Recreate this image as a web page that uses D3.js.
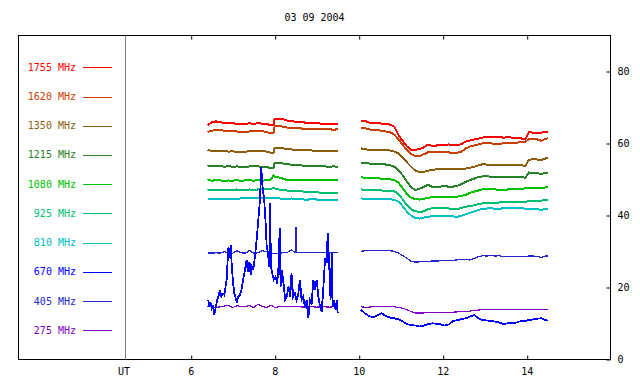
<!DOCTYPE html>
<html>
<head>
<meta charset="utf-8">
<script src="https://cdn.jsdelivr.net/npm/d3@7"></script>
<style>
  html, body { margin: 0; padding: 0; background: #fff; }
  svg { display: block; }
  text { font-family: "DejaVu Sans Mono", monospace; font-size: 10px; }
</style>
</head>
<body>
<svg id="chart" width="640" height="384"></svg>
<script>
// ---------------- DATA ----------------
const title = "03 09 2004";
const xTicks = [6, 8, 10, 12, 14];
const yTicks = [0, 20, 40, 60, 80];

const freqs  = ["1755 MHz","1620 MHz","1350 MHz","1215 MHz","1080 MHz","925 MHz","810 MHz","670 MHz","405 MHz","275 MHz"];
const colors = ["#ff0000","#c84000","#8b5e0f","#288028","#00c000","#00c070","#00c0c0","#0000ff","#2424c8","#8000c8"];

// time grids (UT hours)
const t1 = [6.4,6.5,6.6,6.7,6.8,6.9,7.0,7.1,7.2,7.3,7.4,7.5,7.6,7.7,7.8,7.9,7.97,8.0,8.1,8.2,8.3,8.4,8.5,8.6,8.7,8.8,8.9,9.0,9.1,9.2,9.3,9.4,9.5];
const t2 = [10.05,10.15,10.25,10.35,10.45,10.55,10.65,10.75,10.85,10.95,11.05,11.15,11.25,11.35,11.45,11.55,11.65,11.75,11.85,11.95,
            12.05,12.15,12.25,12.35,12.45,12.55,12.65,12.75,12.85,12.95,13.05,13.15,13.25,13.35,13.45,13.55,13.65,13.75,13.85,13.95,
            13.97,14.05,14.15,14.25,14.35,14.45,14.5];
const t405a = [6.4,6.5,6.6,6.7,6.8,6.9,7.0,7.1,7.2,7.3,7.4,7.5,7.6,7.7,7.8,7.9,8.0,8.1,8.2,8.3,8.4,8.5,8.51,8.52,8.6,8.7,8.8,8.9,9.0,9.1,9.2,9.3,9.4,9.5];
const t670a = [6.42,6.44,6.47,6.50,6.53,6.56,6.60,6.63,6.67,6.70,6.73,6.77,6.80,6.83,6.86,6.88,6.90,6.93,6.95,6.98,
               7.01,7.04,7.07,7.10,7.13,7.17,7.21,7.25,7.29,7.33,7.36,7.40,7.43,7.46,7.49,7.53,7.57,7.61,7.65,7.68,
               7.71,7.75,7.78,7.81,7.84,7.87,7.89,7.91,7.94,7.98,8.02,8.06,8.09,8.12,8.14,8.17,8.21,8.25,8.29,8.33,
               8.37,8.40,8.44,8.48,8.52,8.56,8.60,8.64,8.68,8.72,8.76,8.80,8.84,8.88,8.92,8.96,9.00,9.04,9.08,9.12,
               9.16,9.20,9.24,9.26,9.30,9.33,9.36,9.38,9.41,9.45,9.48,9.50];

// flux values (arbitrary units)
const f1755a = [65.0,65.7,66.0,65.8,65.6,65.5,65.5,65.3,65.4,65.3,65.5,65.3,65.5,65.4,65.3,65.0,64.9,66.8,66.8,66.6,66.2,66.1,65.9,65.8,65.7,65.6,65.5,65.5,65.4,65.3,65.3,65.4,65.3];
const f1755b = [66.2,66.1,65.7,65.5,65.5,65.4,65.3,65.1,64.5,62.2,60.5,59.0,58.1,58.1,58.3,58.8,59.6,59.2,59.3,59.4,59.5,59.6,59.4,59.4,59.7,60.4,60.7,61.0,61.2,61.5,61.8,61.7,61.6,61.6,61.5,61.6,61.5,61.4,61.3,61.1,61.1,63.0,62.9,62.7,62.9,63.1,63.1];
const f1620a = [63.1,63.4,63.6,63.6,63.4,63.3,63.2,63.2,63.1,63.0,63.2,63.2,63.3,63.3,63.1,62.7,62.7,64.7,64.8,64.5,64.3,64.3,64.1,64.1,63.9,63.9,63.9,63.8,63.8,63.8,63.8,63.7,63.8];
const f1620b = [64.3,64.1,63.8,63.6,63.6,63.4,63.2,63.0,62.3,61.0,59.4,58.1,56.9,56.3,56.3,56.9,57.4,57.6,57.4,57.6,57.6,57.4,57.1,57.3,57.6,58.5,59.0,59.3,59.6,59.9,59.9,59.9,59.7,59.8,59.9,59.9,59.9,60.1,60.2,60.4,60.4,61.0,61.0,61.0,60.6,61.2,61.3];
const f1350a = [58.1,57.8,57.9,57.7,57.8,57.6,57.7,57.5,57.6,57.6,57.7,57.7,57.8,57.9,57.6,57.3,57.3,58.7,58.7,58.5,58.4,58.2,58.1,58.1,58.1,58.0,57.9,57.9,57.8,57.9,57.8,57.9,57.8];
const f1350b = [58.5,58.3,58.1,58.1,58.1,58.1,58.0,57.9,57.6,57.1,56.0,54.6,53.4,52.3,51.9,52.0,52.3,52.5,52.7,52.8,52.8,52.8,52.8,52.8,52.8,52.9,53.1,53.4,53.8,54.1,54.0,53.9,53.9,53.9,53.9,53.9,53.9,53.9,53.8,53.7,53.7,55.3,55.5,55.4,55.3,55.7,55.8];
const f1215a = [53.8,53.5,53.7,53.6,53.4,53.6,53.4,53.5,53.4,53.3,53.5,53.6,53.5,53.4,53.4,53.0,53.0,54.5,54.4,54.3,54.1,54.0,53.9,53.8,53.7,53.6,53.6,53.5,53.5,53.5,53.4,53.5,53.4];
const f1215b = [54.5,54.4,54.3,54.3,54.3,54.2,54.0,53.8,53.4,52.3,51.0,49.3,47.7,46.9,47.3,47.8,48.4,47.8,47.7,47.9,48.1,47.8,47.9,48.1,48.6,49.2,49.7,50.1,50.6,50.7,50.8,50.6,50.6,50.5,50.6,50.6,50.5,50.5,50.5,50.4,50.4,51.8,51.6,51.6,51.4,51.8,51.8];
const f1080a = [49.9,49.5,49.7,49.6,49.5,49.6,49.5,49.7,49.5,49.6,49.7,49.5,49.7,49.5,49.7,49.7,50.9,50.6,50.4,50.1,49.7,49.6,49.7,49.6,49.7,49.7,49.6,49.7,49.7,49.6,49.7,49.7,49.6];
const f1080b = [50.5,50.3,50.2,50.2,50.2,50.1,50.0,49.9,49.7,49.0,47.4,45.8,44.8,44.4,44.3,44.5,44.8,44.9,45.0,45.1,45.1,45.1,45.1,45.1,45.3,45.6,46.2,46.5,46.8,47.1,47.1,47.1,47.1,47.0,46.9,47.1,47.1,47.1,47.2,47.4,47.4,47.6,47.5,47.4,47.4,47.7,47.7];
const f925a  = [47.1,46.9,46.9,46.9,46.9,47.0,46.9,47.1,46.9,47.0,47.1,46.9,47.1,47.2,47.1,47.3,47.4,47.4,47.1,46.9,46.8,46.8,46.8,46.6,46.5,46.4,46.3,46.3,46.2,46.1,46.1,46.0,46.0];
const f925b  = [47.1,47.0,46.9,46.9,46.9,46.8,46.8,46.8,46.6,45.8,44.3,42.7,41.6,41.0,40.9,41.0,41.6,41.9,41.9,41.9,41.9,41.8,41.7,41.6,42.0,42.3,42.5,42.7,43.0,43.2,43.2,43.2,43.3,43.5,43.7,43.7,43.7,43.7,43.7,43.7,43.7,43.8,43.9,43.9,44.0,44.2,44.2];
const f810a  = [44.4,44.4,44.4,44.4,44.5,44.5,44.4,44.5,44.6,44.7,44.8,44.7,44.8,44.8,44.7,44.6,44.6,44.7,44.6,44.5,44.5,44.6,44.4,44.4,44.3,44.3,44.4,44.3,44.2,44.2,44.2,44.3,44.2];
const f810b  = [44.6,44.5,44.4,44.4,44.4,44.4,44.4,44.4,44.2,43.7,42.4,40.9,39.8,39.2,39.0,39.3,39.5,39.7,39.7,39.7,39.7,39.7,39.6,39.5,39.8,40.2,40.6,41.0,41.4,41.7,41.8,41.9,41.7,41.7,41.9,41.9,41.9,41.9,41.9,41.8,41.8,41.6,41.6,41.6,41.4,41.7,41.7];
const f670a  = [16.4,14.5,15.9,14.1,15.0,12.2,14.5,16.4,17.8,19.2,17.3,18.2,17.8,20.1,22.4,27.5,31.2,28.0,31.7,25.6,
                21.0,18.2,16.9,15.9,17.3,17.8,19.2,22.0,24.7,27.5,24.3,27.0,23.3,25.6,24.7,28.4,33.1,38.6,44.2,53.3,
                48.0,44.2,38.6,31.2,29.4,25.6,43.2,25.6,23.8,22.0,22.9,21.0,25.6,36.3,20.1,24.7,21.0,16.4,17.3,20.1,
                17.3,23.8,17.3,18.2,16.4,17.8,22.0,16.4,17.3,14.5,16.4,11.3,16.4,15.5,22.0,19.2,22.0,17.3,14.5,13.2,
                20.1,28.0,26.6,34.9,25.6,16.4,29.4,14.5,16.4,13.6,16.4,12.7];
const f670b  = [13.6,12.7,11.9,11.6,12.1,12.7,11.9,11.5,11.3,11.0,10.4,9.7,9.4,9.3,9.0,9.3,9.7,9.9,9.8,9.6,9.3,9.6,10.6,10.8,11.1,11.3,11.8,12.2,11.3,10.8,10.7,10.6,10.4,10.1,9.7,9.9,9.9,10.1,10.5,10.6,10.6,10.8,11.0,11.2,11.3,10.8,10.6];
const f405a  = [29.5,29.4,29.5,29.4,29.8,29.4,29.4,30.1,29.5,29.4,30.1,29.4,29.5,30.1,29.8,29.5,29.2,29.4,29.5,29.6,30.3,29.5,36.6,29.5,29.6,29.5,29.5,29.6,29.5,29.5,29.6,29.5,29.5,29.5];
const f405b  = [29.9,30.1,30.1,30.1,30.1,30.1,30.1,30.1,29.9,29.4,28.7,28.0,27.1,26.9,27.0,27.0,27.1,27.2,27.2,27.3,27.3,27.3,27.3,27.6,27.7,27.7,27.5,27.9,28.4,28.7,28.6,28.8,28.6,28.7,28.4,28.4,28.4,28.4,28.4,28.5,28.5,28.6,28.6,28.5,28.2,28.6,28.6];
const f275a  = [14.7,14.5,14.3,14.5,14.7,14.9,14.3,14.8,14.6,14.5,14.9,14.3,15.2,14.6,14.3,14.9,14.6,14.3,14.5,14.6,14.5,14.5,14.6,14.5,14.4,14.5,14.5,14.4,14.5,14.5,14.4,14.5,14.5];
const f275b  = [14.5,14.4,14.4,14.6,14.6,14.6,14.6,14.6,14.5,14.3,14.1,13.7,13.2,12.8,12.8,12.8,12.9,12.9,12.9,12.9,12.9,13.0,13.0,13.1,13.1,13.2,13.3,13.5,13.6,13.7,13.7,13.7,13.7,13.8,13.8,13.8,13.8,13.8,13.8,13.8,13.8,13.8,13.7,13.7,13.7,13.7,13.7];

// ---------------- LAYOUT ----------------
const svg = d3.select("#chart");
const L = 18.5, R = 610.5, T = 35.5, B = 359.5;

const x = d3.scaleLinear().domain([6, 14]).range([190.7, 526.7]);
const y = d3.scaleLinear().domain([0, 90]).range([359, 35]);

// title
svg.append("text").attr("x", (L + R) / 2).attr("y", 17).attr("text-anchor", "middle")
  .attr("dominant-baseline", "central").attr("fill", "#000").text(title);

// frame
svg.append("rect").attr("x", L).attr("y", T).attr("width", R - L).attr("height", B - T)
  .attr("fill", "none").attr("stroke", "#000").attr("stroke-width", 1);

// gray divider between legend and plot
svg.append("line").attr("x1", 125.5).attr("x2", 125.5).attr("y1", T).attr("y2", B)
  .attr("stroke", "#808080").attr("stroke-width", 1);

// bottom axis
const bottomAxis = d3.axisBottom(x).tickValues(xTicks).tickSize(-4).tickPadding(8).tickFormat(d3.format("d"));
const gB = svg.append("g").attr("transform", `translate(0,${B})`).call(bottomAxis);
gB.select(".domain").remove();
gB.selectAll("line").attr("stroke", "#000").attr("transform", "translate(0.5,0)");
gB.selectAll("text").attr("font-family", "DejaVu Sans Mono").attr("font-size", 10).attr("fill", "#000");

// top ticks
const topAxis = d3.axisTop(x).tickValues(xTicks).tickSize(-4).tickFormat("");
const gT = svg.append("g").attr("transform", `translate(0,${T})`).call(topAxis);
gT.select(".domain").remove();
gT.selectAll("line").attr("stroke", "#000").attr("transform", "translate(0.5,0)");

// UT label
svg.append("text").attr("x", 124).attr("y", 371).attr("text-anchor", "middle")
  .attr("dominant-baseline", "central").attr("fill", "#000").text("UT");

// right axis
const rightAxis = d3.axisRight(y).tickValues(yTicks).tickSize(-4).tickPadding(7).tickFormat(d3.format("d"));
const gR = svg.append("g").attr("transform", `translate(${R},0)`).call(rightAxis);
gR.select(".domain").remove();
gR.selectAll("line").attr("stroke", "#000").attr("transform", "translate(0,0.5)");
gR.selectAll("text").attr("font-family", "DejaVu Sans Mono").attr("font-size", 10).attr("fill", "#000");

// legend
freqs.forEach((f, i) => {
  const ly = 67.3 + i * 29.22;
  svg.append("text").attr("x", 76).attr("y", ly).attr("text-anchor", "end")
    .attr("dominant-baseline", "central").attr("fill", colors[i]).text(f);
  svg.append("line").attr("x1", 83).attr("x2", 112).attr("y1", Math.round(ly) + 0.5).attr("y2", Math.round(ly) + 0.5)
    .attr("stroke", colors[i]).attr("stroke-width", 1);
});

// series
const series = [
  { c: 0, segs: [[t1, f1755a], [t2, f1755b]], w: 2 },
  { c: 1, segs: [[t1, f1620a], [t2, f1620b]], w: 2 },
  { c: 2, segs: [[t1, f1350a], [t2, f1350b]], w: 2 },
  { c: 3, segs: [[t1, f1215a], [t2, f1215b]], w: 2 },
  { c: 4, segs: [[t1, f1080a], [t2, f1080b]], w: 2 },
  { c: 5, segs: [[t1, f925a],  [t2, f925b]],  w: 2 },
  { c: 6, segs: [[t1, f810a],  [t2, f810b]],  w: 2 },
  { c: 9, segs: [[t1, f275a],  [t2, f275b]],  w: 1.2 },
  { c: 8, segs: [[t405a, f405a], [t2, f405b]], w: 1.3 },
  { c: 7, segs: [[t670a, f670a], [t2, f670b]], w: 1.8 }
];

const line = d3.line().x(d => x(d[0])).y(d => y(d[1]));
const gLines = svg.append("g");
series.forEach(s => {
  s.segs.forEach(([ts, vs]) => {
    const pts = ts.map((t, i) => [t, vs[i]]);
    gLines.append("path").datum(pts).attr("d", line)
      .attr("fill", "none").attr("stroke", colors[s.c]).attr("stroke-width", s.w)
      .attr("stroke-linejoin", "miter").attr("shape-rendering", "crispEdges");
  });
});
</script>
</body>
</html>
